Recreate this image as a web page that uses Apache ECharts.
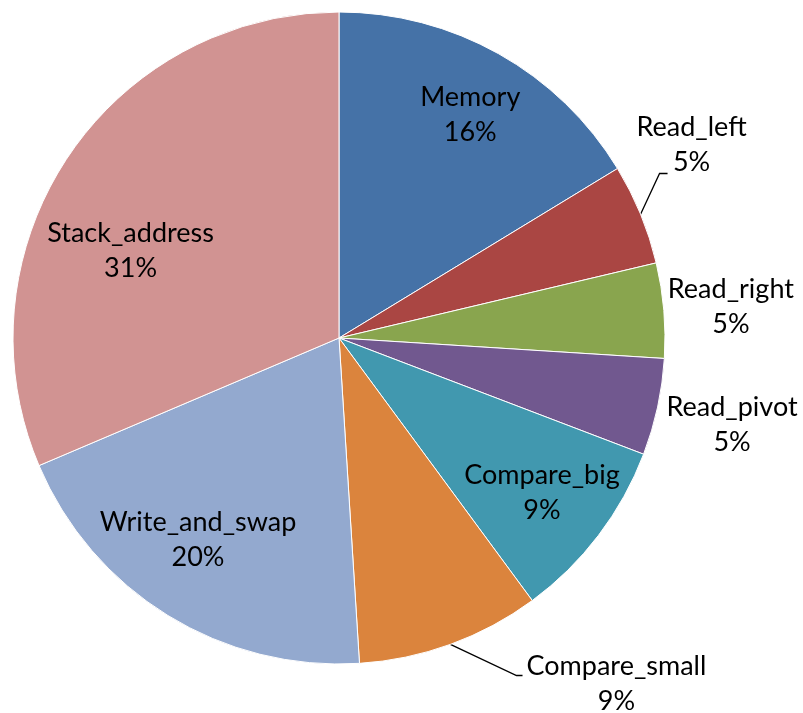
<!DOCTYPE html>
<html><head><meta charset="utf-8">
<script src="https://cdn.jsdelivr.net/npm/echarts@6/dist/echarts.min.js"></script>
<style>html,body{margin:0;padding:0;background:#fff}#c{width:803px;height:713px}</style>
</head><body><div id="c"></div>
<script>
// ---- data ----
const categories = ['Memory', 'Read_left', 'Read_right', 'Read_pivot', 'Compare_big', 'Compare_small', 'Write_and_swap', 'Stack_address'];
const values = [16.3, 5.0, 4.7, 4.8, 9.1, 9.1, 19.6, 31.4];
const outsideNames = ['Read_left', 'Read_right', 'Read_pivot', 'Compare_small'];

// ---- style ----
const colors = ['#4572A7', '#AA4643', '#89A54E', '#71588F', '#4198AF', '#DB843D', '#93A9CF', '#D19392'];
const FONT = 'Lato';
const FS = 27, LH = 35;
const R = 326, CX = 339, CY = 338;
// label nudges (dx, dy) relative to the library's default label position
const outerShift = { Read_left: [-33, -64], Read_right: [-5, -3], Read_pivot: [0, 17], Compare_small: [58, 25] };
const innerShift = { Memory: [10, -7], Compare_big: [6, 5], Write_and_swap: [-11, -9], Stack_address: [-2, 49] };
const lineCfg = {
  Read_left: { length: 15, length2: 10 },
  Read_right: { show: false, length: 4, length2: 0 },
  Read_pivot: { show: false, length: 4, length2: 0 },
  Compare_small: { length: 15, length2: 8 }
};

const fmt = p => p.name + '\n' + Math.round(p.percent) + '%';
const labelStyle = { color: '#000', fontFamily: FONT, fontSize: FS, lineHeight: LH, formatter: fmt };

const mainData = categories.map((n, i) => {
  const out = outsideNames.includes(n);
  const lc = lineCfg[n] || {};
  return {
    name: n, value: values[i],
    itemStyle: { color: colors[i] },
    label: { show: out },
    labelLine: { show: out && lc.show !== false, length: lc.length || 0, length2: lc.length2 || 0 }
  };
});
const ringData = categories.map((n, i) => ({
  name: n, value: values[i],
  label: { show: !outsideNames.includes(n) }
}));

const chart = echarts.init(document.getElementById('c'), null, { renderer: 'canvas' });
chart.setOption({
  animation: false,
  backgroundColor: '#fff',
  series: [
    {
      type: 'pie', center: [CX, CY], radius: [0, R], startAngle: 90, clockwise: true,
      avoidLabelOverlap: false, silent: true,
      itemStyle: { borderColor: '#fff', borderWidth: 1 },
      label: Object.assign({ position: 'outside', distanceToLabelLine: 5 }, labelStyle),
      labelLine: { lineStyle: { color: '#000', width: 1.3 }, smooth: false },
      labelLayout: function (p) {
        const n = categories[p.dataIndex];
        const s = outerShift[n];
        if (!s) return {};
        const r = p.labelRect;
        const cx = r.x + r.width / 2 + s[0];
        const cy = r.y + r.height / 2 + s[1];
        const o = { x: cx, y: cy, align: 'center', verticalAlign: 'middle' };
        if (p.labelLinePoints && lineCfg[n].show !== false) {
          const p0 = p.labelLinePoints[0];
          if (n === 'Read_left') {
            o.labelLinePoints = [p0, [cx - 32, cy + 29], [cx - 24, cy + 29]];
          } else {
            const left = cx - r.width / 2;
            o.labelLinePoints = [p0, [left - 10, cy - 8], [left - 4, cy - 8]];
          }
        }
        return o;
      },
      data: mainData
    },
    {
      type: 'pie', center: [CX, CY], radius: [R / 2, R], startAngle: 90, clockwise: true,
      avoidLabelOverlap: false, silent: true,
      itemStyle: { color: 'rgba(0,0,0,0)', borderWidth: 0 },
      emphasis: { disabled: true },
      label: Object.assign({ position: 'inside' }, labelStyle),
      labelLine: { show: false },
      labelLayout: function (p) {
        const s = innerShift[categories[p.dataIndex]];
        if (!s) return {};
        const r = p.labelRect;
        return { x: r.x + r.width / 2 + s[0], y: r.y + r.height / 2 + s[1], align: 'center', verticalAlign: 'middle' };
      },
      data: ringData
    }
  ]
});
</script>
</body></html>
